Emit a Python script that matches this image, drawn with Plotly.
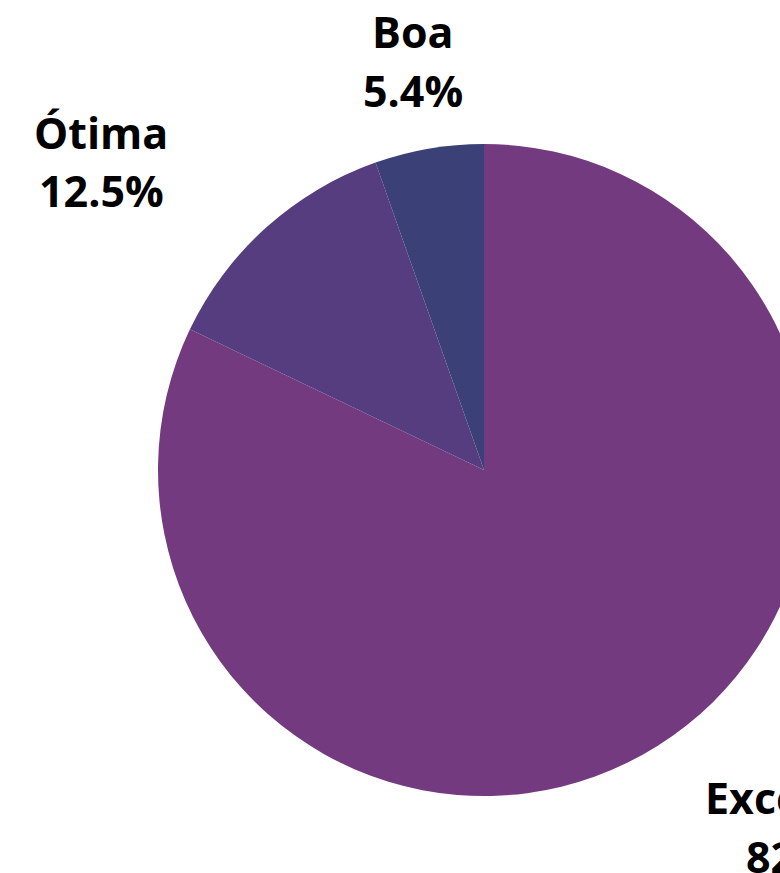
import plotly.graph_objects as go

labels = ["Excelente", "Ótima", "Boa"]
shares = [82.1, 12.5, 5.4]
colors = ["#743A7F", "#563D7F", "#3B4077"]

# text placement in page pixels: x centre, name line centre, percent line centre
label_pos = {
    "Excelente": (808, 797, 856),
    "Ótima": (101, 132, 190),
    "Boa": (413, 31, 91),
}

# the figure is wider/taller than the window: the pie runs off the right edge
W, H = 968, 940
L, R, T, B = 158, 158, 144, 144
PAGE_OFFSET = 0  # body margin is zeroed below


def _paper(px: float, py: float):
    x = (px - PAGE_OFFSET - L) / (W - L - R)
    y = 1 - (py - PAGE_OFFSET - T) / (H - T - B)
    return x, y


fig = go.Figure(
    go.Pie(
        labels=labels,
        values=shares,
        sort=False,
        direction="clockwise",
        rotation=0,
        marker=dict(colors=colors, line=dict(width=0)),
        textinfo="none",
        hoverinfo="label+percent",
        showlegend=False,
    )
)

font = dict(family="Open Sans, Noto Sans, sans-serif", size=43, color="#000000")
for name, share in zip(labels, shares):
    cx, y_name, y_pct = label_pos[name]
    for txt, cy in ((name, y_name), (f"{share:.1f}%", y_pct)):
        xp, yp = _paper(cx, cy)
        fig.add_annotation(
            x=xp,
            y=yp,
            xref="paper",
            yref="paper",
            text=f"<b>{txt}</b>",
            showarrow=False,
            xanchor="center",
            yanchor="middle",
            font=font,
        )

fig.update_layout(
    width=W,
    height=H,
    autosize=False,
    margin=dict(l=L, r=R, t=T, b=B),
    paper_bgcolor="white",
    plot_bgcolor="white",
)

fig.write_html(
    "out.html",
    post_script=(
        "document.documentElement.style.overflow='hidden';"
        "document.body.style.margin='0';"
        "document.body.style.overflow='visible';"
    ),
)
